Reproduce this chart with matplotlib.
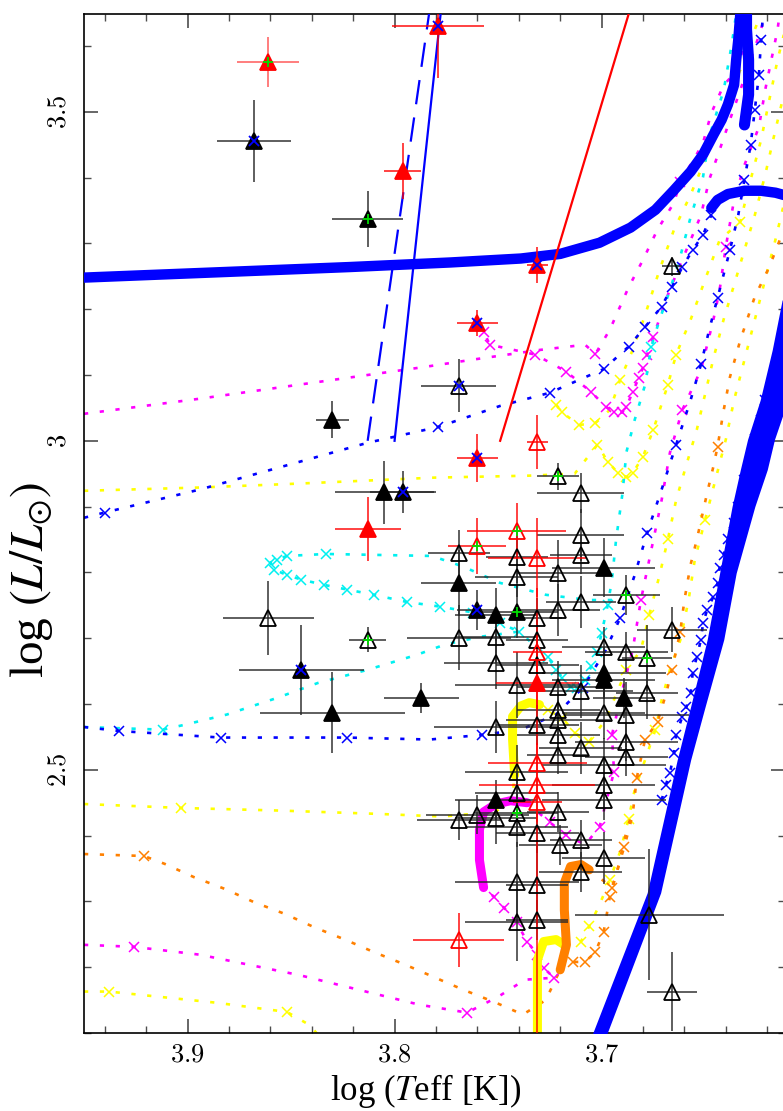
import numpy as np
import matplotlib.pyplot as plt
from matplotlib.ticker import MultipleLocator, FixedLocator, FixedFormatter

# ---------------- evolutionary tracks (log Teff, log L) ----------------
blue_up_teff = [3.950, 3.940, 3.894, 3.846, 3.813, 3.779, 3.749, 3.725, 3.699, 3.687, 3.679,
                3.671, 3.666, 3.661, 3.656, 3.651, 3.647]
blue_up_logl = [2.883, 2.891, 2.926, 2.968, 2.997, 3.021, 3.053, 3.073, 3.109, 3.143, 3.173,
                3.204, 3.234, 3.264, 3.290, 3.313, 3.343]
blue_up_marks = [1, 5, 7, 8, 9, 10, 11, 12, 13, 14, 15, 16]

blue_low_teff = [3.950, 3.933, 3.884, 3.823, 3.783, 3.758, 3.739, 3.722, 3.709, 3.698, 3.691,
                 3.684, 3.678, 3.671, 3.664, 3.657, 3.652, 3.648, 3.644, 3.638, 3.634, 3.631,
                 3.628, 3.626, 3.624, 3.623, 3.622]
blue_low_logl = [2.565, 2.559, 2.549, 2.549, 2.546, 2.553, 2.561, 2.584, 2.625, 2.682, 2.731,
                 2.796, 2.860, 2.926, 2.994, 3.062, 3.116, 3.169, 3.217, 3.290, 3.343, 3.397,
                 3.450, 3.503, 3.556, 3.609, 3.649]
blue_low_marks = [1, 2, 3, 5, 8, 10, 12, 14, 16, 18, 19, 21, 22, 23, 24, 25]

blue_rgb_teff = [3.671, 3.669, 3.667, 3.665, 3.664, 3.661, 3.659, 3.657, 3.656, 3.654, 3.652,
                 3.651, 3.649, 3.646, 3.644, 3.643, 3.641, 3.639, 3.636, 3.634, 3.631, 3.628,
                 3.626, 3.623, 3.621]
blue_rgb_logl = [2.454, 2.477, 2.495, 2.526, 2.553, 2.581, 2.596, 2.617, 2.647, 2.672, 2.698,
                 2.723, 2.743, 2.763, 2.784, 2.807, 2.827, 2.850, 2.875, 2.900, 2.941, 2.971,
                 3.002, 3.032, 3.062]

cyan_low_teff = [3.950, 3.912, 3.902, 3.881, 3.857, 3.837, 3.813, 3.789, 3.776, 3.759, 3.740,
                 3.726, 3.722, 3.719, 3.715, 3.712, 3.708, 3.705, 3.702, 3.700, 3.697, 3.695,
                 3.693, 3.690, 3.688, 3.684, 3.679, 3.676, 3.672, 3.667, 3.662, 3.657, 3.651,
                 3.648, 3.644, 3.641, 3.637, 3.635]
cyan_low_logl = [2.565, 2.561, 2.568, 2.584, 2.609, 2.632, 2.652, 2.675, 2.690, 2.702, 2.710,
                 2.672, 2.652, 2.640, 2.626, 2.625, 2.637, 2.657, 2.679, 2.708, 2.751, 2.789,
                 2.850, 2.918, 2.983, 3.032, 3.085, 3.143, 3.184, 3.229, 3.280, 3.340, 3.401,
                 3.462, 3.503, 3.533, 3.605, 3.649]
cyan_low_marks = [1, 10, 11, 12, 13, 14, 15, 16, 17, 18, 19, 20, 27]

cyan_loop_teff = [3.695, 3.706, 3.727, 3.749, 3.767, 3.782, 3.833, 3.852, 3.857, 3.860, 3.858,
                  3.852, 3.845, 3.834, 3.823, 3.810, 3.794, 3.778, 3.762, 3.749, 3.740]
cyan_loop_logl = [2.758, 2.758, 2.766, 2.784, 2.809, 2.825, 2.828, 2.825, 2.819, 2.815, 2.804,
                  2.796, 2.789, 2.781, 2.774, 2.766, 2.755, 2.748, 2.739, 2.723, 2.710]
cyan_loop_marks = list(range(6, 20))

yellow_up_teff = [3.950, 3.894, 3.846, 3.781, 3.735, 3.713, 3.702, 3.697, 3.692, 3.688, 3.685,
                  3.680, 3.675, 3.668, 3.664, 3.657, 3.650, 3.643, 3.633, 3.628, 3.623, 3.619,
                  3.615, 3.612]
yellow_up_logl = [2.924, 2.929, 2.935, 2.944, 2.947, 2.950, 2.994, 2.968, 2.951, 2.945, 2.951,
                  2.976, 3.017, 3.085, 3.131, 3.184, 3.245, 3.305, 3.333, 3.397, 3.457, 3.518,
                  3.579, 3.617]
yellow_up_marks = [6, 7, 8, 9, 10, 11, 12, 13, 14, 18]

yellow_hook_teff = [3.722, 3.719, 3.711, 3.703, 3.696, 3.691, 3.685, 3.679, 3.672, 3.665, 3.657,
                    3.650, 3.644, 3.638, 3.631, 3.626, 3.623]
yellow_hook_logl = [3.055, 3.043, 3.024, 3.027, 3.047, 3.093, 3.138, 3.191, 3.260, 3.321, 3.374,
                    3.427, 3.480, 3.526, 3.579, 3.625, 3.649]
yellow_hook_marks = [0, 1, 2, 3, 5]

yellow_mid_teff = [3.950, 3.903, 3.855, 3.808, 3.777, 3.751, 3.743, 3.742]
yellow_mid_logl = [2.448, 2.442, 2.438, 2.433, 2.429, 2.436, 2.462, 2.492]
yellow_mid_marks = [1]
yellow_mid_dense_teff = [3.742, 3.743, 3.743, 3.739, 3.735, 3.730]
yellow_mid_dense_logl = [2.492, 2.546, 2.581, 2.597, 2.602, 2.599]
yellow_mid2_teff = [3.730, 3.726, 3.719, 3.713, 3.706, 3.698, 3.692, 3.688, 3.681, 3.677, 3.672,
                    3.668, 3.664, 3.659, 3.654, 3.650, 3.646, 3.641, 3.636, 3.631, 3.626, 3.621,
                    3.616, 3.612]
yellow_mid2_logl = [2.599, 2.591, 2.579, 2.556, 2.543, 2.576, 2.622, 2.652, 2.682, 2.735, 2.796,
                    2.850, 2.910, 2.964, 3.017, 3.071, 3.125, 3.185, 3.237, 3.290, 3.343, 3.404,
                    3.473, 3.526]
yellow_mid2_marks = [1, 2, 3, 4, 7, 9, 11]

yellow_low_teff = [3.950, 3.938, 3.886, 3.852, 3.841, 3.835]
yellow_low_logl = [2.163, 2.163, 2.146, 2.132, 2.112, 2.090]
yellow_low_marks = [1, 3]
yellow_low_dense_teff = [3.731, 3.731, 3.731, 3.728, 3.722, 3.718]
yellow_low_dense_logl = [2.090, 2.150, 2.211, 2.239, 2.242, 2.234]
yellow_low2_teff = [3.718, 3.710, 3.706, 3.701, 3.696, 3.691, 3.687, 3.684, 3.679, 3.674, 3.671,
                    3.667, 3.662, 3.658, 3.655, 3.650, 3.645, 3.640, 3.636, 3.631, 3.626, 3.621,
                    3.616, 3.612]
yellow_low2_logl = [2.234, 2.239, 2.262, 2.295, 2.333, 2.376, 2.425, 2.470, 2.515, 2.561, 2.606,
                    2.652, 2.697, 2.758, 2.819, 2.880, 2.941, 3.002, 3.062, 3.123, 3.184, 3.245,
                    3.306, 3.359]
yellow_low2_marks = [1, 2, 4, 6, 9, 15]

magenta_up_teff = [3.950, 3.894, 3.840, 3.786, 3.763, 3.730, 3.708, 3.703, 3.696, 3.687, 3.680,
                   3.673, 3.665, 3.662, 3.655, 3.651, 3.647, 3.641, 3.634, 3.631, 3.627]
magenta_up_logl = [3.041, 3.064, 3.088, 3.112, 3.123, 3.138, 3.146, 3.132, 3.169, 3.233, 3.275,
                   3.321, 3.362, 3.394, 3.430, 3.453, 3.498, 3.541, 3.564, 3.609, 3.649]
magenta_up_marks = [7, 13]

magenta_loop_teff = [3.761, 3.757, 3.754, 3.732, 3.717, 3.705, 3.698, 3.694, 3.690, 3.688, 3.685,
                     3.682, 3.680, 3.678, 3.675, 3.669, 3.662, 3.657, 3.652, 3.648, 3.643, 3.638,
                     3.633, 3.628, 3.623, 3.621]
magenta_loop_logl = [3.169, 3.166, 3.146, 3.131, 3.105, 3.074, 3.052, 3.043, 3.043, 3.052, 3.074,
                     3.096, 3.111, 3.131, 3.158, 3.214, 3.268, 3.305, 3.343, 3.397, 3.442, 3.488,
                     3.533, 3.579, 3.625, 3.649]
magenta_loop_marks = list(range(1, 15))

magenta_low_teff = [3.950, 3.926, 3.894, 3.846, 3.810, 3.788, 3.765, 3.750, 3.737, 3.723, 3.728,
                    3.731, 3.736, 3.741, 3.747, 3.752, 3.757]
magenta_low_logl = [2.234, 2.231, 2.219, 2.188, 2.160, 2.143, 2.131, 2.155, 2.181, 2.184, 2.199,
                    2.219, 2.239, 2.268, 2.290, 2.307, 2.321]
magenta_low_marks = [1, 6, 9, 10, 11, 12, 13, 14, 15]
magenta_dense_teff = [3.757, 3.759, 3.759, 3.757, 3.751, 3.744, 3.736]
magenta_dense_logl = [2.321, 2.363, 2.409, 2.436, 2.448, 2.453, 2.450]
magenta_right_teff = [3.736, 3.725, 3.717, 3.708, 3.701, 3.694, 3.695, 3.690, 3.685, 3.681, 3.677,
                      3.671, 3.667, 3.661, 3.652, 3.646, 3.643, 3.640, 3.636, 3.631, 3.624, 3.621,
                      3.618, 3.615, 3.614]
magenta_right_logl = [2.450, 2.420, 2.401, 2.386, 2.413, 2.497, 2.553, 2.621, 2.682, 2.758, 2.819,
                      2.910, 2.982, 3.047, 3.108, 3.184, 3.229, 3.295, 3.366, 3.419, 3.477, 3.533,
                      3.579, 3.625, 3.649]
magenta_right_marks = [1, 2, 4, 5, 6, 9, 13, 17]

orange_teff = [3.950, 3.921, 3.911, 3.897, 3.882, 3.868, 3.853, 3.839, 3.824, 3.810, 3.795,
               3.781, 3.767, 3.751, 3.738, 3.727, 3.720]
orange_logl = [2.372, 2.369, 2.357, 2.337, 2.319, 2.299, 2.281, 2.261, 2.242, 2.223, 2.204,
               2.185, 2.166, 2.146, 2.128, 2.150, 2.196]
orange_marks = [1]
orange_dense_teff = [3.720, 3.717, 3.718, 3.718, 3.715, 3.710, 3.706]
orange_dense_logl = [2.196, 2.234, 2.287, 2.328, 2.353, 2.356, 2.348]
orange2_teff = [3.706, 3.701, 3.695, 3.691, 3.689, 3.685, 3.683, 3.679, 3.673, 3.669, 3.666,
                3.662, 3.660, 3.657, 3.654, 3.649, 3.646, 3.644, 3.641, 3.638, 3.633, 3.626,
                3.619, 3.612]
orange2_logl = [2.348, 2.336, 2.321, 2.363, 2.383, 2.432, 2.488, 2.546, 2.573, 2.614, 2.652,
                2.710, 2.758, 2.812, 2.850, 2.921, 2.961, 2.991, 3.047, 3.097, 3.153, 3.219,
                3.264, 3.321]
orange2_marks = [2, 4, 6, 7, 8, 10, 11, 17]
orange3_teff = [3.720, 3.714, 3.708, 3.703, 3.699, 3.696, 3.692, 3.689, 3.685]
orange3_logl = [2.219, 2.208, 2.208, 2.223, 2.254, 2.307, 2.351, 2.394, 2.439]
orange3_marks = [1, 2, 3, 4, 5]

# thick (slow-phase) blue tracks
band_teff = [3.950, 3.918, 3.870, 3.822, 3.773, 3.739, 3.720, 3.701, 3.686, 3.674, 3.665,
             3.657, 3.651, 3.646, 3.642, 3.639, 3.636, 3.635, 3.634, 3.633]
band_logl = [3.248, 3.252, 3.258, 3.264, 3.271, 3.277, 3.284, 3.301, 3.324, 3.351, 3.381,
             3.409, 3.435, 3.465, 3.488, 3.511, 3.541, 3.579, 3.609, 3.649]
stub_teff = [3.631, 3.629, 3.629, 3.630, 3.630]
stub_logl = [3.480, 3.526, 3.579, 3.625, 3.649]
band2_teff = [3.647, 3.644, 3.639, 3.631, 3.623, 3.616, 3.609]
band2_logl = [3.354, 3.366, 3.375, 3.380, 3.380, 3.377, 3.371]

rgb_logl = [2.090, 2.313, 2.515, 2.596, 2.698, 2.799, 2.900, 2.956, 3.002, 3.062, 3.138, 3.214]
rgb_teff_hot = [3.7055, 3.678, 3.6635, 3.657, 3.649, 3.643, 3.637, 3.633, 3.6295, 3.6234, 3.6176, 3.6128]
rgb_teff_cool = [3.6985, 3.6715, 3.657, 3.650, 3.641, 3.635, 3.626, 3.620, 3.6165, 3.610, 3.604, 3.598]

# straight lines
blue_solid_teff = [3.800, 3.776]
blue_solid_logl = [3.000, 3.700]
blue_dash_teff = [3.813, 3.781]
blue_dash_logl = [3.000, 3.700]
red_line_teff = [3.749, 3.682]
red_line_logl = [3.000, 3.700]

# ---------------- observed stars: teff, logl, err_teff, err_logl ----------------
open_black_teff = [3.861, 3.710, 3.769, 3.710, 3.741, 3.721, 3.710, 3.741, 3.721, 3.710, 3.731,
                   3.769, 3.751, 3.731, 3.699, 3.688, 3.666, 3.751, 3.731, 3.741, 3.721, 3.710,
                   3.678, 3.751, 3.731, 3.721, 3.721, 3.699, 3.688, 3.721, 3.710, 3.688, 3.688,
                   3.721, 3.741, 3.699, 3.741, 3.699, 3.699, 3.769, 3.760, 3.751, 3.741, 3.721,
                   3.731, 3.720, 3.710, 3.699, 3.710, 3.741, 3.731, 3.741, 3.731, 3.677, 3.666,
                   3.666]
open_black_logl = [2.731, 2.921, 2.830, 2.857, 2.824, 2.799, 2.827, 2.793, 2.743, 2.755, 2.731,
                   2.701, 2.702, 2.698, 2.687, 2.679, 2.713, 2.663, 2.660, 2.629, 2.626, 2.619,
                   2.617, 2.565, 2.568, 2.591, 2.576, 2.587, 2.584, 2.553, 2.533, 2.543, 2.520,
                   2.523, 2.497, 2.508, 2.465, 2.477, 2.454, 2.424, 2.432, 2.427, 2.413, 2.436,
                   2.404, 2.386, 2.394, 2.366, 2.345, 2.330, 2.325, 2.269, 2.272, 2.280, 2.163,
                   3.265]
open_black_terr = [0.022, 0.021, 0.015, 0.021, 0.015, 0.020, 0.015, 0.020, 0.020, 0.017, 0.012,
                   0.025, 0.020, 0.015, 0.020, 0.020, 0.017, 0.025, 0.020, 0.030, 0.020, 0.025,
                   0.015, 0.030, 0.020, 0.020, 0.025, 0.020, 0.030, 0.020, 0.020, 0.025, 0.020,
                   0.015, 0.025, 0.030, 0.020, 0.025, 0.030, 0.020, 0.025, 0.020, 0.025, 0.015,
                   0.020, 0.020, 0.015, 0.020, 0.020, 0.030, 0.015, 0.025, 0.015, 0.036, 0.012,
                   0.005]
open_black_lerr = [0.056, 0.030, 0.035, 0.040, 0.040, 0.050, 0.030, 0.030, 0.040, 0.040, 0.030,
                   0.050, 0.040, 0.030, 0.030, 0.030, 0.034, 0.040, 0.030, 0.050, 0.040, 0.040,
                   0.040, 0.040, 0.030, 0.030, 0.030, 0.040, 0.050, 0.030, 0.040, 0.030, 0.030,
                   0.030, 0.040, 0.040, 0.030, 0.040, 0.030, 0.030, 0.030, 0.040, 0.030, 0.030,
                   0.030, 0.030, 0.030, 0.040, 0.030, 0.060, 0.060, 0.060, 0.030, 0.100, 0.060,
                   0.015]

filled_black_teff = [3.830, 3.805, 3.830, 3.787, 3.699, 3.769, 3.751, 3.699, 3.699, 3.689, 3.751]
filled_black_logl = [3.032, 2.922, 2.587, 2.609, 2.807, 2.784, 2.736, 2.647, 2.637, 2.609, 2.454]
filled_black_terr = [0.008, 0.024, 0.035, 0.018, 0.025, 0.018, 0.020, 0.030, 0.025, 0.015, 0.020]
filled_black_lerr = [0.028, 0.048, 0.062, 0.023, 0.045, 0.050, 0.040, 0.040, 0.030, 0.030, 0.030]

black_bluex_teff = [3.868, 3.796, 3.845, 3.760]
black_bluex_logl = [3.456, 2.922, 2.652, 2.743]
black_bluex_terr = [0.018, 0.016, 0.030, 0.010]
black_bluex_lerr = [0.062, 0.032, 0.068, 0.030]

black_green_teff = [3.813, 3.741]
black_green_logl = [3.337, 2.740]
black_green_terr = [0.017, 0.020]
black_green_lerr = [0.043, 0.040]

open_green_teff = [3.813, 3.721, 3.688, 3.678, 3.741]
open_green_logl = [2.698, 2.946, 2.766, 2.670, 2.435]
open_green_terr = [0.009, 0.010, 0.016, 0.012, 0.020]
open_green_lerr = [0.019, 0.021, 0.030, 0.050, 0.030]

open_bluex_teff = [3.769]
open_bluex_logl = [3.084]
open_bluex_terr = [0.018]
open_bluex_lerr = [0.041]

red_teff = [3.796, 3.813, 3.731]
red_logl = [3.410, 2.866, 2.632]
red_terr = [0.009, 0.016, 0.020]
red_lerr = [0.043, 0.048, 0.040]

red_bluex_teff = [3.779, 3.731, 3.760, 3.760]
red_bluex_logl = [3.631, 3.267, 3.179, 2.974]
red_bluex_terr = [0.022, 0.005, 0.010, 0.010]
red_bluex_lerr = [0.079, 0.027, 0.020, 0.036]

red_green_teff = [3.861]
red_green_logl = [3.576]
red_green_terr = [0.015]
red_green_lerr = [0.038]

open_red_teff = [3.731, 3.731, 3.731, 3.731, 3.731, 3.731, 3.769]
open_red_logl = [2.998, 2.822, 2.679, 2.511, 2.477, 2.451, 2.242]
open_red_terr = [0.005, 0.024, 0.012, 0.024, 0.028, 0.012, 0.022]
open_red_lerr_lo = [0.041, 0.060, 0.030, 0.030, 0.400, 0.030, 0.041]
open_red_lerr_hi = [0.041, 0.060, 0.030, 0.030, 0.300, 0.030, 0.041]

open_red_green_teff = [3.741, 3.760]
open_red_green_logl = [2.863, 2.840]
open_red_green_terr = [0.024, 0.014]
open_red_green_lerr = [0.043, 0.043]

x_ticks = [3.9, 3.8, 3.7]
x_ticklabels = [r'$3.9$', r'$3.8$', r'$3.7$']
y_ticks = [2.5, 3.0, 3.5]
y_ticklabels = [r'$2.5$', r'$3$', r'$3.5$']

# ---------------- figure ----------------
plt.rcParams['font.family'] = ['Liberation Serif', 'DejaVu Serif']
plt.rcParams['mathtext.fontset'] = 'cm'

fig = plt.figure(figsize=(7.83, 11.11), dpi=100)
ax = fig.add_axes([0.1073, 0.0702, 0.8953, 0.9172])

BLUE, CYAN, MAG, YEL, ORA = '#0000ff', '#00f0f0', '#ff00ff', '#ffff00', '#ff8000'
GREEN = '#00dd00'
DOT = (0, (1.6, 4.4))


def track(teff, logl, color, marks=None, z=2):
    ax.plot(teff, logl, color=color, ls=DOT, lw=1.9, zorder=z)
    if marks:
        t = np.asarray(teff)[marks]
        l = np.asarray(logl)[marks]
        ax.plot(t, l, ls='none', marker='x', ms=7, mew=1.1, color=color, zorder=z)


def dense(teff, logl, color, lw=6.5, z=2.5):
    ax.plot(teff, logl, color=color, lw=lw, solid_capstyle='round',
            solid_joinstyle='round', zorder=z)


track(yellow_up_teff, yellow_up_logl, YEL, yellow_up_marks)
track(yellow_hook_teff, yellow_hook_logl, YEL, yellow_hook_marks)
track(yellow_mid_teff, yellow_mid_logl, YEL, yellow_mid_marks)
dense(yellow_mid_dense_teff, yellow_mid_dense_logl, YEL)
track(yellow_mid2_teff, yellow_mid2_logl, YEL, yellow_mid2_marks)
track(yellow_low_teff, yellow_low_logl, YEL, yellow_low_marks)
dense(yellow_low_dense_teff, yellow_low_dense_logl, YEL)
track(yellow_low2_teff, yellow_low2_logl, YEL, yellow_low2_marks)

track(orange_teff, orange_logl, ORA, orange_marks)
dense(orange_dense_teff, orange_dense_logl, ORA)
track(orange2_teff, orange2_logl, ORA, orange2_marks)
track(orange3_teff, orange3_logl, ORA, orange3_marks)

track(magenta_up_teff, magenta_up_logl, MAG, magenta_up_marks)
track(magenta_loop_teff, magenta_loop_logl, MAG, magenta_loop_marks)
track(magenta_low_teff, magenta_low_logl, MAG, magenta_low_marks)
dense(magenta_dense_teff, magenta_dense_logl, MAG)
track(magenta_right_teff, magenta_right_logl, MAG, magenta_right_marks)

track(cyan_low_teff, cyan_low_logl, CYAN, cyan_low_marks)
track(cyan_loop_teff, cyan_loop_logl, CYAN, cyan_loop_marks)

track(blue_up_teff, blue_up_logl, BLUE, blue_up_marks)
track(blue_low_teff, blue_low_logl, BLUE, blue_low_marks)
track(blue_rgb_teff, blue_rgb_logl, BLUE, list(range(len(blue_rgb_teff))))

dense(band_teff, band_logl, BLUE, lw=7.5, z=3)
dense(stub_teff, stub_logl, BLUE, lw=8, z=3)
dense(band2_teff, band2_logl, BLUE, lw=7.5, z=3)
ax.fill_betweenx(rgb_logl, rgb_teff_hot, rgb_teff_cool, color=BLUE, lw=0, zorder=3)

ax.plot(blue_solid_teff, blue_solid_logl, color=BLUE, lw=1.6, zorder=3)
ax.plot(blue_dash_teff, blue_dash_logl, color=BLUE, lw=1.6, ls=(0, (11, 6)), zorder=3)
ax.plot(red_line_teff, red_line_logl, color='red', lw=1.6, zorder=3)


def stars(teff, logl, terr, lerr, ecolor, face, edge, inner=None, inner_color=None):
    ax.errorbar(teff, logl, xerr=terr, yerr=lerr, fmt='none', ecolor=ecolor,
                elinewidth=1.3, alpha=0.8, zorder=4)
    ax.plot(teff, logl, ls='none', marker='^', ms=11, mfc=face, mec=edge, mew=1.3, zorder=5)
    if inner:
        ax.plot(teff, logl, ls='none', marker=inner, ms=7, mew=1.3,
                color=inner_color, zorder=6)


stars(open_black_teff, open_black_logl, open_black_terr, open_black_lerr, '0.15', 'none', 'black')
stars(filled_black_teff, filled_black_logl, filled_black_terr, filled_black_lerr, '0.15', 'black', 'black')
stars(black_bluex_teff, black_bluex_logl, black_bluex_terr, black_bluex_lerr, '0.15', 'black', 'black', 'x', BLUE)
stars(black_green_teff, black_green_logl, black_green_terr, black_green_lerr, '0.15', 'black', 'black', '+', GREEN)
stars(open_green_teff, open_green_logl, open_green_terr, open_green_lerr, '0.15', 'none', 'black', '+', GREEN)
stars(open_bluex_teff, open_bluex_logl, open_bluex_terr, open_bluex_lerr, '0.15', 'none', 'black', 'x', BLUE)
stars(red_teff, red_logl, red_terr, red_lerr, 'red', 'red', 'red')
stars(red_bluex_teff, red_bluex_logl, red_bluex_terr, red_bluex_lerr, 'red', 'red', 'red', 'x', BLUE)
stars(red_green_teff, red_green_logl, red_green_terr, red_green_lerr, '#ff5050', 'red', 'red', '+', GREEN)
stars(open_red_teff, open_red_logl, open_red_terr, [open_red_lerr_lo, open_red_lerr_hi], 'red', 'none', 'red')
stars(open_red_green_teff, open_red_green_logl, open_red_green_terr, open_red_green_lerr, 'red', 'none', 'red', '+', GREEN)

# ---------------- axes ----------------
ax.set_xlim(3.95, 3.6114)
ax.set_ylim(2.1, 3.6486)

ax.xaxis.set_major_locator(FixedLocator(x_ticks))
ax.xaxis.set_major_formatter(FixedFormatter(x_ticklabels))
ax.xaxis.set_minor_locator(MultipleLocator(0.02))
ax.yaxis.set_major_locator(FixedLocator(y_ticks))
ax.yaxis.set_major_formatter(FixedFormatter(y_ticklabels))
ax.yaxis.set_minor_locator(MultipleLocator(0.1))

ax.tick_params(which='both', direction='in', top=True, right=True, color='0.3')
ax.tick_params(which='major', length=10, width=1.2, labelsize=19)
ax.tick_params(which='minor', length=5, width=1.0)
ax.tick_params(axis='x', pad=8)
ax.tick_params(axis='y', pad=10, labelrotation=90)
for lab in ax.get_yticklabels():
    lab.set_va('center')
for s in ax.spines.values():
    s.set_linewidth(1.2)

ax.set_xlabel(r'log ($T$eff [K])', fontsize=25, math_fontfamily='stix')
ax.xaxis.set_label_coords(0.488, -0.038)
ax.set_ylabel(r'log $(L/L_{\odot})$', fontsize=34, math_fontfamily='stix')
ax.yaxis.set_label_coords(-0.042, 0.445)

fig.savefig('out.png', dpi=100)
